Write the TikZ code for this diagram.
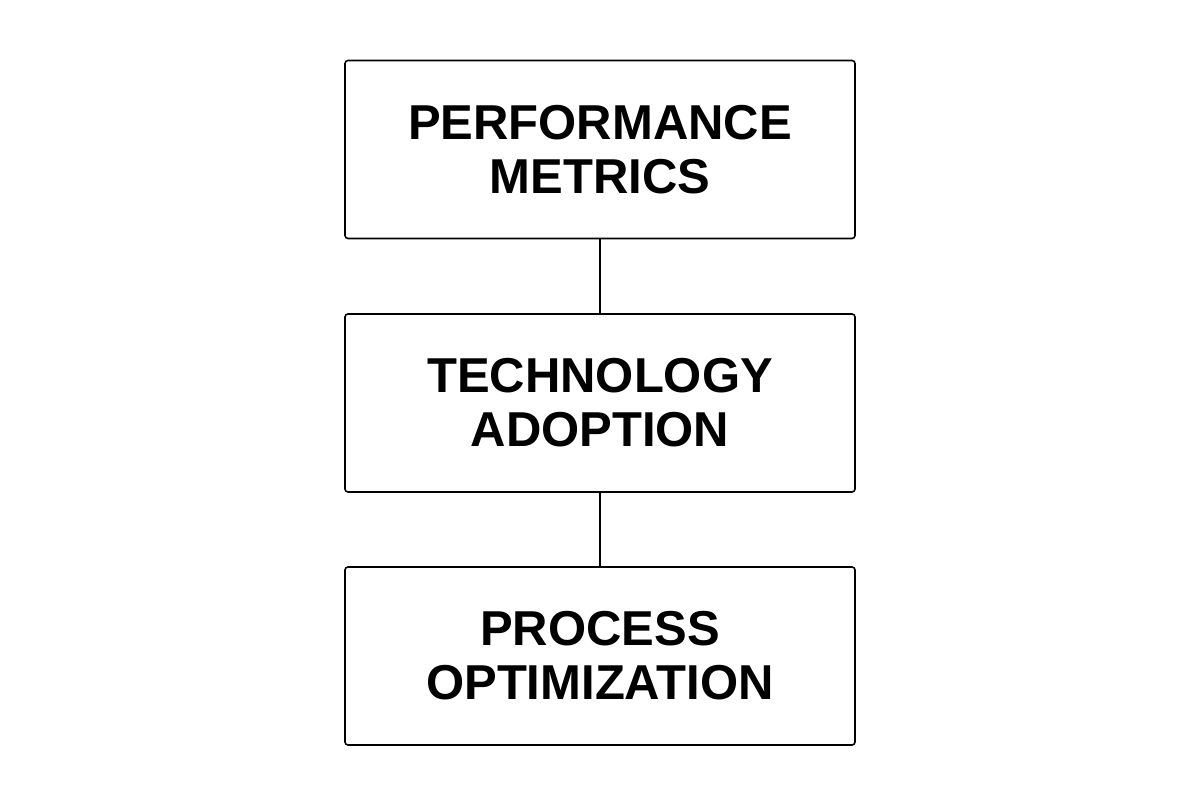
\documentclass[tikz,border=0pt]{standalone}
\usepackage{fontspec}
\setmainfont{Liberation Sans}
\begin{document}
\begin{tikzpicture}[x=1pt,y=-1pt,
  stagebox/.style={draw=black, line width=1.6pt, rounded corners=3pt, fill=white,
    minimum width=510pt, minimum height=178pt, align=center, inner sep=0pt,
    font=\fontsize{49}{54}\selectfont\bfseries},
  link/.style={draw=black, line width=1.6pt}]
\useasboundingbox[fill=white] (0,0) rectangle (1200,800);
\node[stagebox] (pm) at (600,149.5) {PERFORMANCE\\METRICS};
\node[stagebox] (ta) at (600,403) {TECHNOLOGY\\ADOPTION};
\node[stagebox] (po) at (600,656) {PROCESS\\OPTIMIZATION};
\draw[link] (pm) -- (ta);
\draw[link] (ta) -- (po);
\end{tikzpicture}
\end{document}
